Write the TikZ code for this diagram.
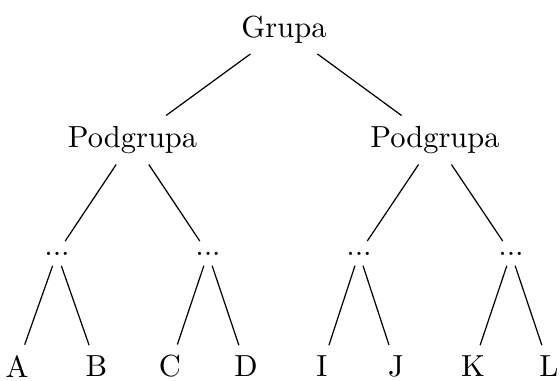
\documentclass[tikz,border=0pt]{standalone}
\begin{document}
\begin{tikzpicture}[x=0.328pt,y=-0.328pt]
        \pgfmathsetmacro{\yA}{29.5}
        \pgfmathsetmacro{\yB}{140}
        \pgfmathsetmacro{\yC}{253.4}
        \pgfmathsetmacro{\yD}{366.4}
        \useasboundingbox (0,0) rectangle (560,381);
        \node (G) at (284,\yA) {Grupa};
        \node (P1) at (132.5,\yB) {Podgrupa};
        \node (P2) at (435,\yB) {Podgrupa};
        \node (S1) at (57,\yC) {...};
        \node (S2) at (208,\yC) {...};
        \node (S3) at (359,\yC) {...};
        \node (S4) at (511,\yC) {...};
        \foreach \n/\x in {A/17,B/96.5,C/170,D/246,I/322,J/396,K/473,L/549}
            \node (\n) at (\x,\yD) {\n};
        \foreach \a/\b in {G/P1,G/P2,P1/S1,P1/S2,P2/S3,P2/S4,S1/A,S1/B,S2/C,S2/D,S3/I,S3/J,S4/K,S4/L}
            \draw (\a) -- (\b);
    \end{tikzpicture}
\end{document}
